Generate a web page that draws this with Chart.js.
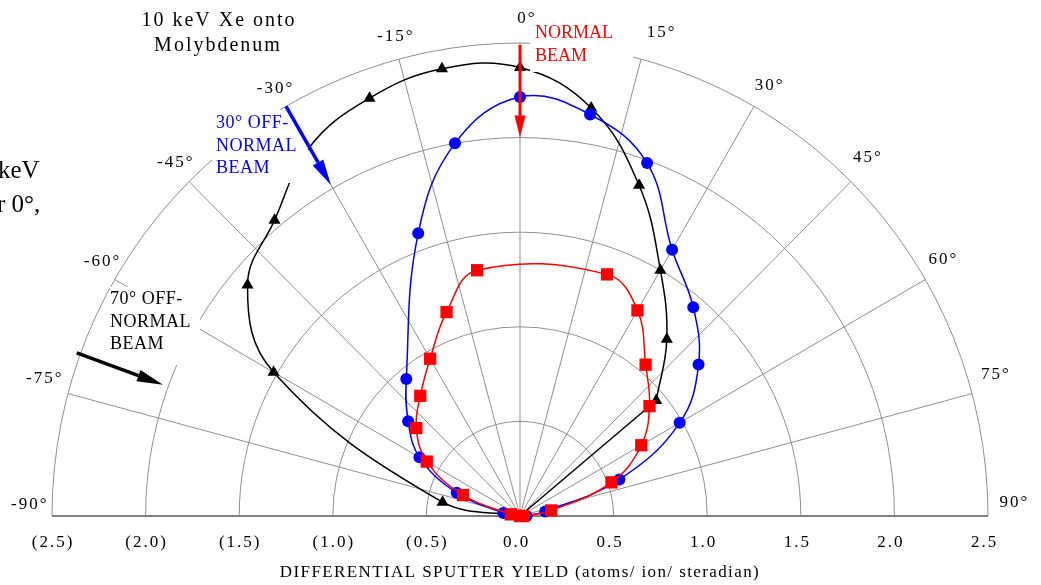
<!DOCTYPE html>
<html><head><meta charset="utf-8">
<script src="https://cdn.jsdelivr.net/npm/chart.js@4.4.1/dist/chart.umd.min.js"></script>
<style>html,body{margin:0;padding:0;background:#fff;overflow:hidden}canvas{display:block}</style>
</head><body>
<canvas id="c" width="1041" height="585"></canvas>
<script>
// ---------- data (angle in degrees from surface normal, yield in atoms/ion/steradian) ----------
const blackAngles = [-90, -80, -60, -50, -40, -30, -20, -10, 0, 10, 20, 30, 40, 50];
const blackYield  = [0, 0.42, 1.52, 1.90, 2.04, 2.25, 2.35, 2.40, 2.37, 2.19, 1.86, 1.50, 1.22, 0.95];
const blackMarked = [1, 1, 1, 1, 1, 0, 1, 1, 1, 1, 1, 1, 1, 1];

const blueAngles = [-90, -80, -70, -60, -50, -40, -20, -10, 0, 10, 20, 30, 40, 50, 60, 70, 80, 90];
const blueYield  = [0, 0.09, 0.36, 0.62, 0.78, 0.945, 1.59, 2.0, 2.215, 2.155, 1.985, 1.625, 1.44, 1.245, 0.985, 0.565, 0.137, 0.035];

const redAngles = [-90, -80, -70, -60, -50, -40, -30, -20, -10, 20, 30, 40, 50, 60, 70, 80, 90];
const redYield  = [0, 0.05, 0.324, 0.575, 0.723, 0.829, 0.96, 1.147, 1.319, 1.359, 1.255, 1.044, 0.903, 0.748, 0.52, 0.169, 0.015];

const ringRadii = [0.5, 1.0, 1.5, 2.0, 2.5];
const spokeAngles = [-90, -75, -60, -45, -30, -15, 0, 15, 30, 45, 60, 75, 90];
const xTickValues = [-2.5, -2.0, -1.5, -1.0, -0.5, 0, 0.5, 1.0, 1.5, 2.0, 2.5];
const axisTitle = 'DIFFERENTIAL SPUTTER YIELD (atoms/ ion/ steradian)';
const chartTitle = ['10 keV Xe onto', 'Molybdenum'];
const blueLabel = ['30\u00B0 OFF-', 'NORMAL', 'BEAM'];
const blackLabel = ['70\u00B0 OFF-', 'NORMAL', 'BEAM'];
const redLabel = ['NORMAL', 'BEAM'];

// ---------- layout (not data) ----------
const FONT = "'Liberation Serif', 'Times New Roman', serif";
// angle label anchors: [label angle, anchor angle, anchor radius]
const angleLabelAnchors = [[-90,-88.7,2.625],[-75,-74.1,2.645],[-60,-59.0,2.608],[-45,-44.6,2.626],[-30,-30.1,2.614],[-15,-14.8,2.62],[0,0.7,2.632],[15,16.4,2.662],[30,30.3,2.633],[45,44.4,2.649],[60,59.05,2.631],[75,73.6,2.645],[90,88.5,2.637]];

const rad = d => d * Math.PI / 180;
const polar = (deg, r) => ({ x: r * Math.sin(rad(deg)), y: r * Math.cos(rad(deg)) });
const toPts = (angles, vals) => angles.map((a, i) => polar(a, vals[i]));

const blackPts = toPts(blackAngles, blackYield);
const bluePts = toPts(blueAngles, blueYield);
const redPts = toPts(redAngles, redYield);
const blackTail = [blackPts[blackPts.length - 1], polar(0, 0)];

function drawText(ctx, s, x, y, o) {
  ctx.save();
  ctx.font = (o.size || 17) + 'px ' + FONT;
  ctx.fillStyle = o.color || '#000';
  ctx.textAlign = o.align || 'center';
  ctx.textBaseline = o.baseline || 'middle';
  try { ctx.letterSpacing = (o.ls || 0) + 'px'; } catch (e) {}
  ctx.fillText(s, x, y);
  ctx.restore();
}
function arrow(ctx, x1, y1, x2, y2, color, lw, hl, hw) {
  const a = Math.atan2(y2 - y1, x2 - x1);
  const bx = x2 - hl * Math.cos(a), by = y2 - hl * Math.sin(a);
  ctx.save();
  ctx.strokeStyle = color; ctx.lineWidth = lw;
  ctx.beginPath(); ctx.moveTo(x1, y1); ctx.lineTo(bx, by); ctx.stroke();
  ctx.fillStyle = color;
  ctx.beginPath();
  ctx.moveTo(x2, y2);
  ctx.lineTo(bx + hw / 2 * Math.sin(a), by - hw / 2 * Math.cos(a));
  ctx.lineTo(bx - hw / 2 * Math.sin(a), by + hw / 2 * Math.cos(a));
  ctx.closePath(); ctx.fill();
  ctx.restore();
}

const polarPlugin = {
  id: 'polarDecor',
  beforeDatasetsDraw(chart) {
    const { ctx, scales: { x, y } } = chart;
    const cx = x.getPixelForValue(0), cy = y.getPixelForValue(0);
    ctx.save();
    ctx.strokeStyle = '#8f8f8f'; ctx.lineWidth = 1;
    for (const r of ringRadii) {
      const rx = x.getPixelForValue(r) - cx, ry = cy - y.getPixelForValue(r);
      ctx.beginPath(); ctx.ellipse(cx, cy, rx, ry, 0, Math.PI, 2 * Math.PI); ctx.stroke();
    }
    for (const a of spokeAngles) {
      const p = polar(a, 2.5);
      ctx.beginPath(); ctx.moveTo(cx, cy);
      ctx.lineTo(x.getPixelForValue(p.x), y.getPixelForValue(p.y)); ctx.stroke();
    }
    ctx.strokeStyle = '#808080'; ctx.lineWidth = 2;
    ctx.beginPath(); ctx.moveTo(x.getPixelForValue(-2.5), cy); ctx.lineTo(x.getPixelForValue(2.5), cy); ctx.stroke();
    ctx.restore();
  },
  afterDatasetsDraw(chart) {
    const { ctx, scales: { x, y } } = chart;
    const P = (deg, r) => { const p = polar(deg, r); return [x.getPixelForValue(p.x), y.getPixelForValue(p.y)]; };
    // angle labels
    for (const [lab, a, r] of angleLabelAnchors) {
      const [px, py] = P(a, r);
      drawText(ctx, lab + '\u00B0', px + 1, py, { size: 17, ls: 2 });
    }
    // x tick labels
    for (const v of xTickValues) {
      const s = v < 0 ? '(' + Math.abs(v).toFixed(1) + ')' : v.toFixed(1);
      drawText(ctx, s, x.getPixelForValue(v) + (v >= 0 ? -3.5 : 1), 543, { size: 17, ls: 2 });
    }
    drawText(ctx, axisTitle, 520, 573, { size: 17, ls: 1.4 });
    // chart title
    drawText(ctx, chartTitle[0], 219, 21, { size: 20, ls: 2 });
    drawText(ctx, chartTitle[1], 218, 46, { size: 20, ls: 2 });
    // cut-off text from neighbouring figure
    drawText(ctx, 'keV', -2, 178, { size: 25, align: 'left', baseline: 'alphabetic' });
    drawText(ctx, 'r 0\u00B0,', -3, 212, { size: 25, align: 'left', baseline: 'alphabetic' });
    // label boxes
    ctx.save(); ctx.fillStyle = '#fff';
    ctx.fillRect(212, 110, 96, 73);
    ctx.fillRect(110, 287, 90, 78);
    ctx.fillRect(530, 20, 103, 52);
    ctx.restore();
    blueLabel.forEach((s, i) => drawText(ctx, s, 216, 123.5 + i * 22.5, { size: 18, align: 'left', color: '#0000ff', ls: 0.5 }));
    blackLabel.forEach((s, i) => drawText(ctx, s, 110, 299.5 + i * 22.5, { size: 18, align: 'left', color: '#000', ls: 0.5 }));
    redLabel.forEach((s, i) => drawText(ctx, s, 535, 33 + i * 23, { size: 18, align: 'left', color: '#ff0000' }));
    // beam arrows
    let a = P(0, 2.49), b = P(0, 2.0);
    arrow(ctx, a[0], a[1], b[0], b[1], '#ff0000', 3, 22, 11);
    a = P(-30, 2.5); b = P(-30, 2.02);
    arrow(ctx, a[0], a[1], b[0], b[1], '#0000ff', 3.5, 26, 12);
    a = P(-70, 2.52); b = P(-70, 2.03);
    arrow(ctx, a[0], a[1], b[0], b[1], '#000000', 3.5, 26, 12);
  }
};

const common = { showLine: true, borderWidth: 1.5, tension: 0.4, clip: false, pointBorderWidth: 0 };

new Chart(document.getElementById('c'), {
  type: 'scatter',
  data: {
    datasets: [
      Object.assign({}, common, { label: 'Normal beam', data: redPts, borderColor: '#ff0000',
        pointStyle: 'rect', pointRadius: 8.7, pointBackgroundColor: '#ff0000' }),
      Object.assign({}, common, { label: '30\u00B0 off-normal beam', data: bluePts, borderColor: '#0000ff',
        pointStyle: 'circle', pointRadius: 6, pointBackgroundColor: '#0000ff' }),
      Object.assign({}, common, { label: '70\u00B0 off-normal beam', data: blackPts, borderColor: '#000000',
        pointStyle: 'triangle', pointRadius: blackMarked.map(m => m ? 7 : 0), pointBackgroundColor: '#000000' }),
      Object.assign({}, common, { label: 'tail', data: blackTail, borderColor: '#000000', tension: 0, pointRadius: 0 })
    ]
  },
  options: {
    responsive: false, animation: false, devicePixelRatio: 1, events: [],
    layout: { padding: { left: 52, right: 53, top: 43, bottom: 69 } },
    scales: {
      x: { type: 'linear', min: -2.5, max: 2.5, display: false },
      y: { type: 'linear', min: 0, max: 2.5, display: false }
    },
    plugins: { legend: { display: false }, tooltip: { enabled: false }, title: { display: false } }
  },
  plugins: [polarPlugin]
});
</script>
</body></html>
